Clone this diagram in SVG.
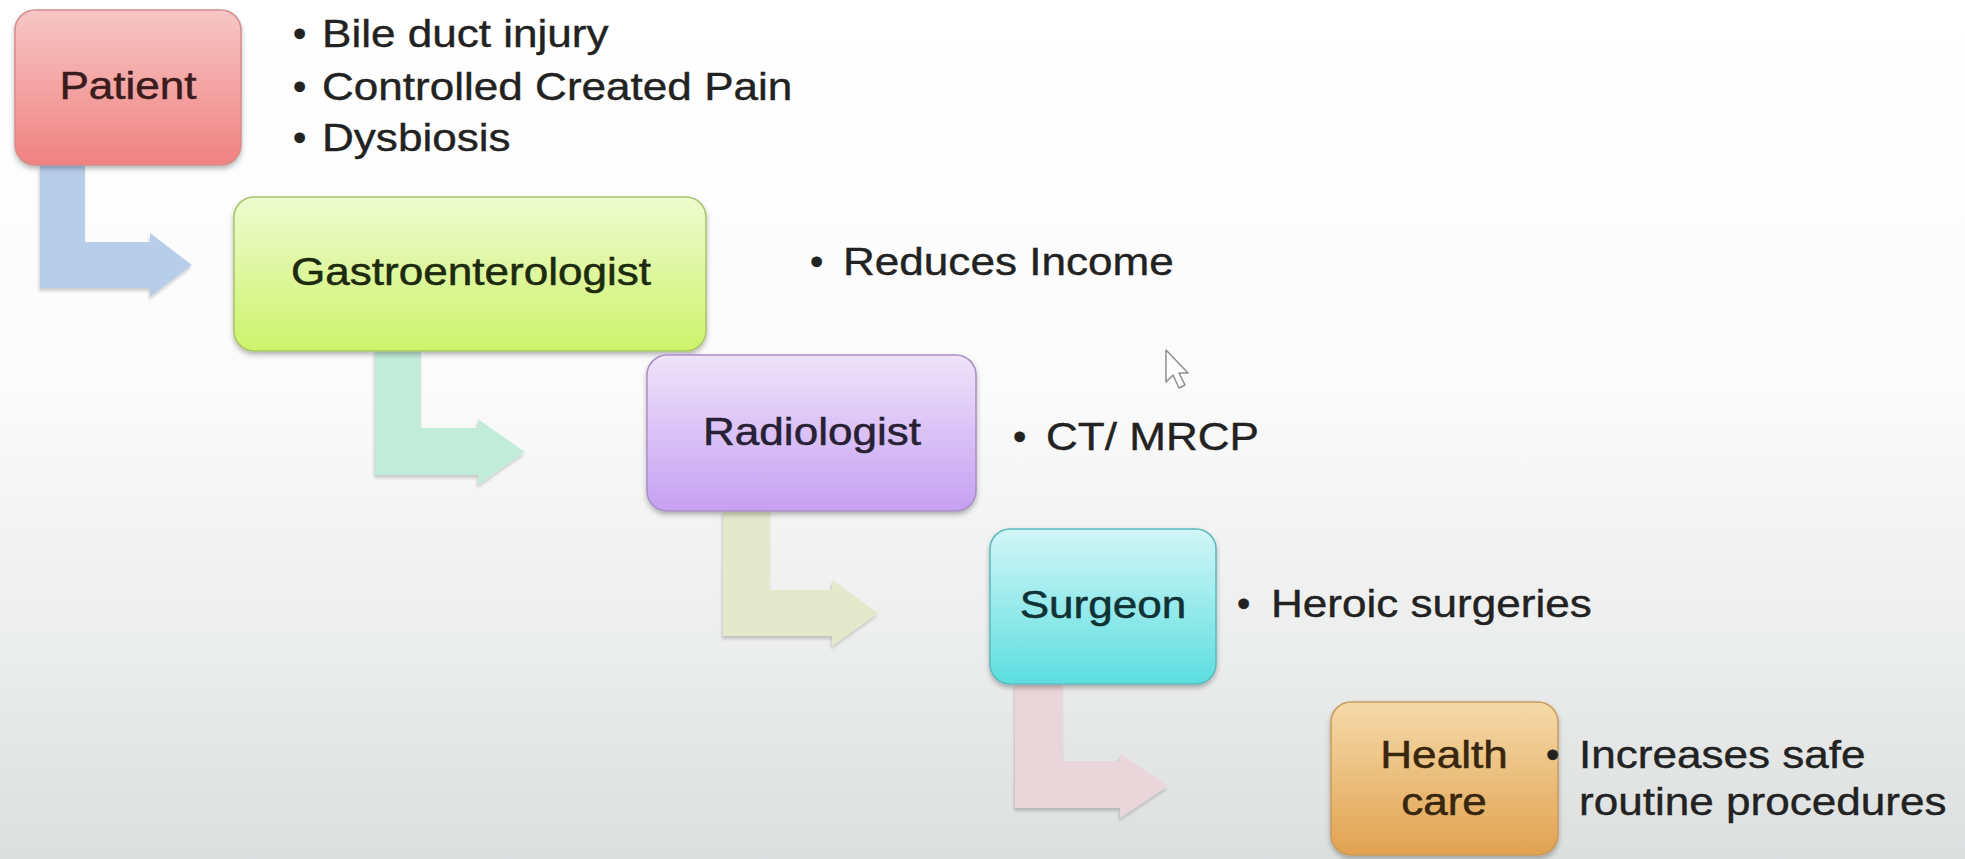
<svg xmlns="http://www.w3.org/2000/svg" width="1965" height="859" viewBox="0 0 1965 859">
  <defs>
    <linearGradient id="bg" x1="0" y1="0" x2="0" y2="1">
      <stop offset="0" stop-color="#ffffff"/>
      <stop offset="0.45" stop-color="#fafbfa"/>
      <stop offset="0.75" stop-color="#eceeed"/>
      <stop offset="1" stop-color="#dcdfdf"/>
    </linearGradient>
    <linearGradient id="gPatient" x1="0" y1="0" x2="0" y2="1">
      <stop offset="0" stop-color="#f7c6c6"/>
      <stop offset="1" stop-color="#f08280"/>
    </linearGradient>
    <linearGradient id="gGastro" x1="0" y1="0" x2="0" y2="1">
      <stop offset="0" stop-color="#eefbd0"/>
      <stop offset="1" stop-color="#cdf36a"/>
    </linearGradient>
    <linearGradient id="gRadio" x1="0" y1="0" x2="0" y2="1">
      <stop offset="0" stop-color="#efe3fa"/>
      <stop offset="1" stop-color="#c6a0f2"/>
    </linearGradient>
    <linearGradient id="gSurgeon" x1="0" y1="0" x2="0" y2="1">
      <stop offset="0" stop-color="#d2f6f8"/>
      <stop offset="1" stop-color="#5cdedf"/>
    </linearGradient>
    <linearGradient id="gHealth" x1="0" y1="0" x2="0" y2="1">
      <stop offset="0" stop-color="#f5daa9"/>
      <stop offset="1" stop-color="#e1a250"/>
    </linearGradient>
    <filter id="shadow" x="-10%" y="-10%" width="120%" height="130%">
      <feDropShadow dx="0" dy="3" stdDeviation="2.5" flood-color="#000" flood-opacity="0.28"/>
    </filter>
    <filter id="ashadow" x="-10%" y="-10%" width="120%" height="130%">
      <feDropShadow dx="-1" dy="3" stdDeviation="1.5" flood-color="#000" flood-opacity="0.18"/>
    </filter>
  </defs>
  <style>
    .box { stroke-width: 1.5; filter: url(#shadow); }
    .lbl { font-family: "Liberation Sans", Arial, sans-serif; font-size: 38px; text-anchor: middle; stroke-width: 0.5; }
    .bul { font-family: "Liberation Sans", Arial, sans-serif; font-size: 38px; fill: #222222; stroke: #222222; stroke-width: 0.4; }
    .arrow { filter: url(#ashadow); }
  </style>

  <rect x="0" y="0" width="1965" height="859" fill="url(#bg)"/>

  <g id="connectors">
    <path class="arrow" fill="#b8cdea" d="M40 165 H85 V242 H150 V233 L192 265 L150 297 V288 H40 Z"/>
    <path class="arrow" fill="#c2ebda" d="M375 351 H421 V428 H478 V419 L525 452 L478 485 V475 H375 Z"/>
    <path class="arrow" fill="#e3e9ca" d="M723 511 H770 V590 H832 V580 L878 613 L832 646 V636 H723 Z"/>
    <path class="arrow" fill="#e9d5da" d="M1015 685 H1063 V761 H1120 V754 L1168 786 L1120 818 V808 H1015 Z"/>
  </g>

  <g id="patient">
    <rect class="box" x="15" y="10" width="226" height="155" rx="20" fill="url(#gPatient)" stroke="#d48c8c"/>
    <text class="lbl" fill="#3a1c1c" stroke="#3a1c1c" transform="translate(128 99) scale(1.16 1)">Patient</text>
  </g>
  <g id="patient-notes">
    <text class="bul" x="293" y="47">•</text>
    <text class="bul" transform="translate(322 47) scale(1.16 1)">Bile duct injury</text>
    <text class="bul" x="293" y="100">•</text>
    <text class="bul" transform="translate(322 100) scale(1.16 1)">Controlled Created Pain</text>
    <text class="bul" x="293" y="151">•</text>
    <text class="bul" transform="translate(322 151) scale(1.16 1)">Dysbiosis</text>
  </g>

  <g id="gastroenterologist">
    <rect class="box" x="234" y="197" width="472" height="154" rx="20" fill="url(#gGastro)" stroke="#a9c46a"/>
    <text class="lbl" fill="#1c2a0e" stroke="#1c2a0e" transform="translate(471 285) scale(1.16 1)">Gastroenterologist</text>
  </g>
  <g id="gastro-notes">
    <text class="bul" x="810" y="275">•</text>
    <text class="bul" transform="translate(843 275) scale(1.16 1)">Reduces Income</text>
  </g>

  <g id="radiologist">
    <rect class="box" x="647" y="355" width="329" height="156" rx="20" fill="url(#gRadio)" stroke="#a98fc4"/>
    <text class="lbl" fill="#282034" stroke="#282034" transform="translate(812 445) scale(1.16 1)">Radiologist</text>
  </g>
  <g id="radio-notes">
    <text class="bul" x="1013" y="450">•</text>
    <text class="bul" transform="translate(1046 450) scale(1.16 1)">CT/ MRCP</text>
  </g>

  <g id="surgeon">
    <rect class="box" x="990" y="529" width="226" height="155" rx="20" fill="url(#gSurgeon)" stroke="#5bb9bc"/>
    <text class="lbl" fill="#103234" stroke="#103234" transform="translate(1103 618) scale(1.16 1)">Surgeon</text>
  </g>
  <g id="surgeon-notes">
    <text class="bul" x="1237" y="617">•</text>
    <text class="bul" transform="translate(1271 617) scale(1.16 1)">Heroic surgeries</text>
  </g>

  <g id="healthcare">
    <rect class="box" x="1331" y="702" width="227" height="153" rx="20" fill="url(#gHealth)" stroke="#c99b5c"/>
    <text class="lbl" fill="#38260e" stroke="#38260e" transform="translate(1444 768) scale(1.16 1)">Health</text>
    <text class="lbl" fill="#38260e" stroke="#38260e" transform="translate(1444 815) scale(1.16 1)">care</text>
  </g>
  <g id="healthcare-notes">
    <text class="bul" x="1546" y="768">•</text>
    <text class="bul" transform="translate(1579 768) scale(1.16 1)">Increases safe</text>
    <text class="bul" transform="translate(1579 815) scale(1.16 1)">routine procedures</text>
  </g>

  <path id="cursor" d="M1166 350 V382 L1173 375 L1179 388 L1185 385 L1179 373 L1188 373 Z" fill="#ffffff" stroke="#8a8f92" stroke-width="1.5" stroke-linejoin="round"/>
</svg>
